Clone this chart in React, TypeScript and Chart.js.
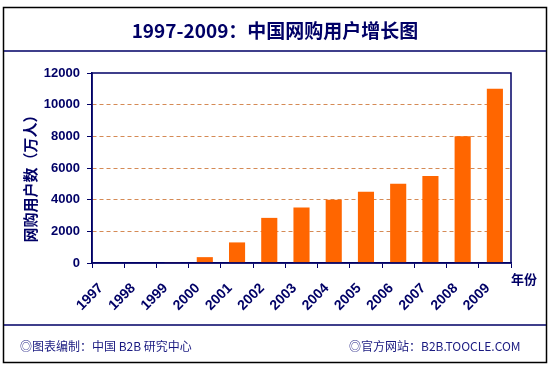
import React, { useEffect, useRef } from "react";
import { Chart, registerables } from "chart.js";

Chart.register(...registerables);

const years = ["1997", "1998", "1999", "2000", "2001", "2002", "2003", "2004", "2005", "2006", "2007", "2008", "2009"];
const users = [0, 0, 50, 370, 1300, 2850, 3500, 4000, 4500, 5000, 5500, 8000, 11000];
const yMin = 0;
const yMax = 12000;
const yStep = 2000;

const titleText = "1997-2009：中国网购用户增长图";
const yTitleText = "网购用户数（万人）";
const xTitleText = "年份";
const footerLeftText = "◎图表编制：中国 B2B 研究中心";
const footerRightText = "◎官方网站：B2B.TOOCLE.COM";

const NAVY = "#000066";
const ORANGE = "#FF6600";
const CJK = '"Noto Sans CJK SC", "Noto Sans", sans-serif';

const decoPlugin = {
  id: "deco",
  beforeDraw(chart: any) {
    const ctx = chart.ctx;
    ctx.save();
    ctx.fillStyle = "#ffffff";
    ctx.fillRect(0, 0, chart.width, chart.height);
    ctx.restore();
  },
  afterDraw(chart: any) {
    const ctx = chart.ctx;
    const a = chart.chartArea;
    ctx.save();
    // outer frame
    ctx.strokeStyle = "#000000";
    ctx.lineWidth = 1.5;
    ctx.strokeRect(3.5, 7.5, 543, 355);
    // separators
    ctx.strokeStyle = NAVY;
    ctx.lineWidth = 1.5;
    ctx.beginPath();
    ctx.moveTo(4, 51);
    ctx.lineTo(546, 51);
    ctx.moveTo(4, 325);
    ctx.lineTo(546, 325);
    ctx.stroke();
    // plot border
    ctx.lineWidth = 1.5;
    ctx.strokeStyle = NAVY;
    ctx.strokeRect(a.left, a.top, a.right - a.left, a.bottom - a.top);
    // title
    ctx.fillStyle = NAVY;
    ctx.font = `bold 19px ${CJK}`;
    ctx.textAlign = "center";
    ctx.textBaseline = "middle";
    ctx.fillText(titleText, 275, 31);
    // y title
    ctx.save();
    ctx.translate(30, 175);
    ctx.rotate(-Math.PI / 2);
    ctx.font = `bold 15px ${CJK}`;
    ctx.textAlign = "center";
    ctx.textBaseline = "middle";
    ctx.fillText(yTitleText, 0, 0);
    ctx.restore();
    // x title
    ctx.font = `bold 13px ${CJK}`;
    ctx.textAlign = "left";
    ctx.textBaseline = "middle";
    ctx.fillText(xTitleText, 511, 279);
    // footer
    ctx.fillStyle = "#1a1a80";
    ctx.font = `12px ${CJK}`;
    ctx.textAlign = "left";
    ctx.fillText(footerLeftText, 20, 346);
    ctx.fillText(footerRightText, 349, 346);
    ctx.restore();
  },
};

export default function App() {
  const ref = useRef<HTMLCanvasElement | null>(null);
  useEffect(() => {
    if (!ref.current) return;
    const chart = new Chart(ref.current, {
      type: "bar",
      data: {
        labels: years,
        datasets: [
          {
            data: users,
            backgroundColor: ORANGE,
            borderWidth: 0,
            categoryPercentage: 1,
            barPercentage: 0.5,
          },
        ],
      },
      options: {
        animation: false,
        responsive: false,
        maintainAspectRatio: false,
        layout: { padding: { left: 0, right: 39, top: 73, bottom: 0 } },
        plugins: { legend: { display: false }, title: { display: false }, tooltip: { enabled: false } },
        scales: {
          x: {
            offset: true,
            grid: {
              offset: true,
              drawOnChartArea: false,
              drawTicks: true,
              tickLength: 5,
              tickColor: NAVY,
              tickWidth: 1,
            },
            border: { display: true, color: NAVY, width: 1.5 },
            ticks: {
              color: NAVY,
              font: { family: '"Liberation Sans", Arial, sans-serif', size: 14, weight: "bold" },
              minRotation: 45,
              maxRotation: 45,
              autoSkip: false,
              padding: 12,
              labelOffset: -7,
            },
            afterFit: (scale: any) => {
              scale.height = 121;
            },
          },
          y: {
            min: yMin,
            max: yMax,
            grid: {
              color: (c: any) =>
                c.tick && (c.tick.value === yMin || c.tick.value === yMax) ? "rgba(0,0,0,0)" : "#D58A55",
              lineWidth: 1,
              drawTicks: true,
              tickLength: 5,
              tickColor: NAVY,
              tickWidth: 1,
              tickBorderDash: [],
            },
            border: { display: true, color: NAVY, width: 1.5, dash: [4, 3] },
            ticks: {
              stepSize: yStep,
              color: NAVY,
              font: { family: '"Liberation Sans", Arial, sans-serif', size: 13, weight: "bold" },
              padding: 7,
              callback: (v: any) => String(v),
            },
            afterFit: (scale: any) => {
              scale.width = 92;
            },
          },
        },
      },
      plugins: [decoPlugin],
    });
    return () => chart.destroy();
  }, []);
  return (
    <div style={{ position: "fixed", left: 0, top: 0, width: 550, height: 384, background: "#fff" }}>
      <canvas ref={ref} width={550} height={384} style={{ display: "block", width: 550, height: 384 }} />
    </div>
  );
}
